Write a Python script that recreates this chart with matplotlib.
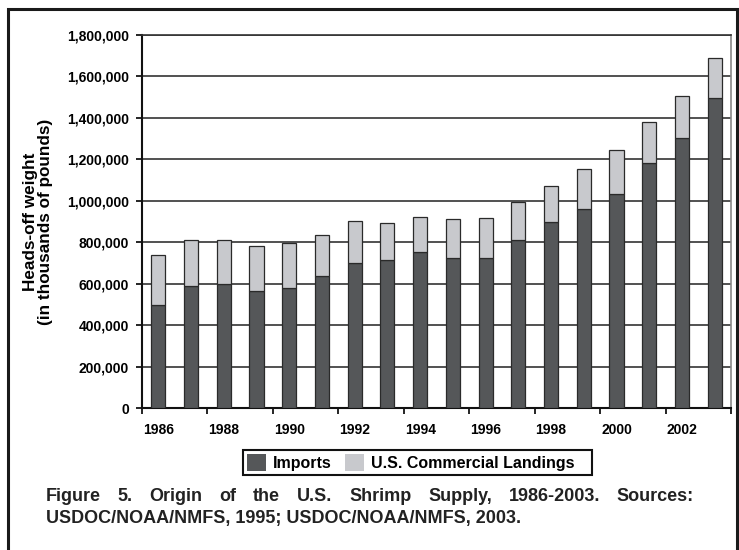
import matplotlib
matplotlib.use('Agg')
import matplotlib.pyplot as plt
from matplotlib.patches import Rectangle, Patch
from matplotlib.ticker import FuncFormatter, FixedLocator
import numpy as np

plt.rcParams['font.family'] = ['Liberation Sans', 'DejaVu Sans']
plt.rcParams['font.weight'] = 'bold'

# shrimp supply, thousands of pounds (heads-off)
years = [1986, 1987, 1988, 1989, 1990, 1991, 1992, 1993, 1994,
         1995, 1996, 1997, 1998, 1999, 2000, 2001, 2002, 2003]
imports = [495, 588, 600, 566, 580, 635, 698, 712, 752,
           725, 725, 813, 897, 960, 1031, 1180, 1305, 1497]
landings = [243, 221, 209, 214, 216, 201, 206, 179, 171,
            187, 193, 181, 174, 193, 212, 201, 200, 194]
year_labels = ['1986', '1988', '1990', '1992', '1994', '1996', '1998', '2000', '2002']

caption1 = "Figure 5. Origin of the U.S. Shrimp Supply, 1986-2003. Sources:"
caption2 = "USDOC/NOAA/NMFS, 1995; USDOC/NOAA/NMFS, 2003."

dark = '#555759'
light = '#c8c9cd'
edge = '#2a2a2a'

W, H = 739, 550
fig = plt.figure(figsize=(W / 100, H / 100), dpi=100)

# outer frame of the figure box
fig.patches.append(Rectangle((8 / W, -0.05), (737 - 8) / W, 1.05 - 9 / H,
                             transform=fig.transFigure, fill=False,
                             edgecolor='#1a1a1a', linewidth=2.2))

ax = fig.add_axes([142 / W, (H - 408) / H, (731 - 142) / W, (408 - 35) / H])

x = np.arange(len(years))
imp = np.array(imports) * 1000
lnd = np.array(landings) * 1000
ax.bar(x, imp, width=0.43, color=dark, edgecolor=edge, linewidth=0.9, zorder=3)
ax.bar(x, lnd, width=0.43, bottom=imp, color=light, edgecolor=edge, linewidth=0.9, zorder=3)

ax.set_xlim(-0.5, len(years) - 0.5)
ax.set_ylim(0, 1800000)
ax.yaxis.set_major_locator(FixedLocator(np.arange(0, 1800001, 200000)))
ax.yaxis.set_major_formatter(FuncFormatter(lambda v, p: '{:,.0f}'.format(v)))
ax.yaxis.grid(True, color='#333333', linewidth=1.2, zorder=0)

# ticks between categories every 2 years, labels under every other bar
ax.xaxis.set_major_locator(FixedLocator(np.arange(-0.5, len(years), 2)))
ax.xaxis.set_major_formatter(FuncFormatter(lambda v, p: ''))
ax.xaxis.set_minor_locator(FixedLocator(np.arange(0, len(years), 2)))
ax.set_xticklabels(year_labels, minor=True)
ax.tick_params(axis='x', which='minor', length=0, pad=11, labelsize=10)
ax.tick_params(axis='x', which='major', length=4, width=1.2, direction='out')
ax.tick_params(axis='y', length=4.3, width=1.2, direction='out', pad=5, labelsize=10)

for s in ['left', 'bottom']:
    ax.spines[s].set_color('#111111')
    ax.spines[s].set_linewidth(1.5)
ax.spines['top'].set_color('#333333')
ax.spines['top'].set_linewidth(1.2)
ax.spines['right'].set_color('#888888')
ax.spines['right'].set_linewidth(1.2)

ax.set_ylabel('Heads-off weight\n(in thousands of pounds)', fontsize=12.3,
              fontweight='bold', linespacing=1.0, labelpad=10)

handles = [Patch(facecolor=dark, edgecolor='none'), Patch(facecolor=light, edgecolor='none')]
leg = fig.legend(handles, ['Imports', 'U.S. Commercial Landings   '], ncol=2,
                 loc='center', bbox_to_anchor=(417.5 / W, 1 - 462.5 / H),
                 fontsize=11.5, handlelength=1.2, handleheight=1.3, handletextpad=0.45,
                 columnspacing=0.8, borderpad=0.25, borderaxespad=0, fancybox=False,
                 edgecolor='#111111', framealpha=1)
leg.get_frame().set_linewidth(1.5)

# caption, first line spread to full width
cap_kw = dict(fontsize=13, fontweight='bold', color='#222222', va='baseline')
left_px, right_px = 46, 694
words = caption1.split(' ')
fig.canvas.draw()
r = fig.canvas.get_renderer()
arts = [fig.text(0, 0, w, **cap_kw) for w in words]
widths = [a.get_window_extent(r).width for a in arts]
gap = (right_px - left_px - sum(widths)) / (len(words) - 1)
pos = left_px
for a, w in zip(arts, widths):
    a.set_position((pos / W, 1 - 501 / H))
    pos += w + gap
fig.text(left_px / W, 1 - 523 / H, caption2, **cap_kw)

fig.savefig('out.png', dpi=100)
